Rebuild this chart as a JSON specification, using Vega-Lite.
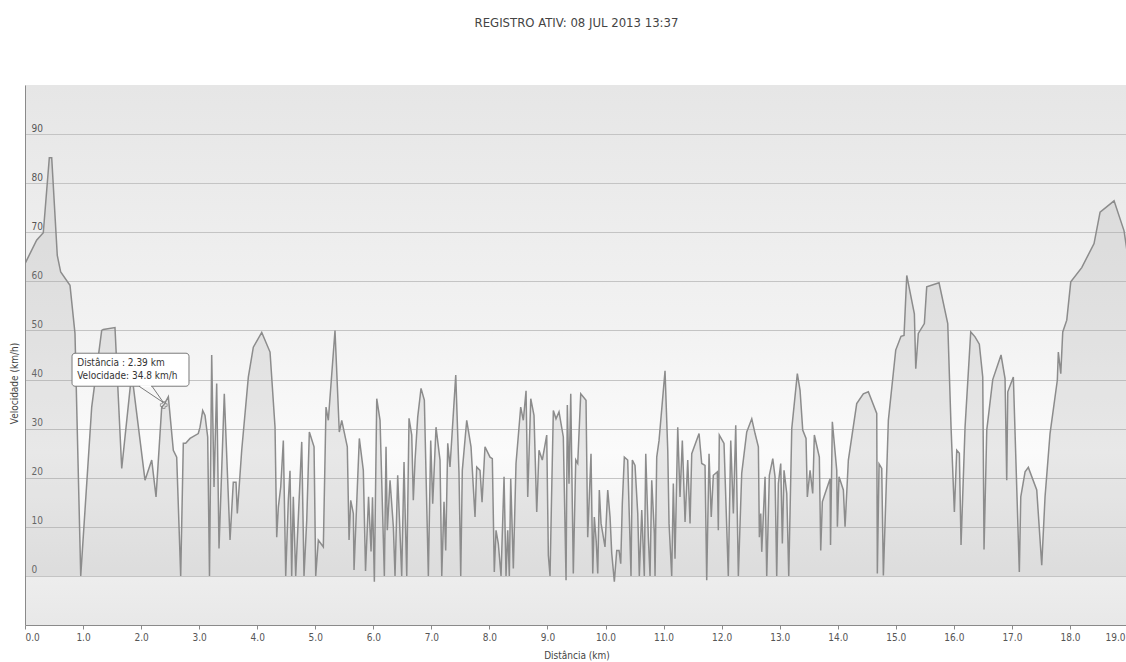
{
  "$schema": "https://vega.github.io/schema/vega-lite/v6.json",
  "autosize": {"type": "none"},
  "width": 1103,
  "height": 540,
  "padding": {"left": 25, "top": 85, "right": -2, "bottom": 37},
  "background": "#ffffff",
  "title": {
    "text": "REGISTRO ATIV: 08 JUL 2013 13:37",
    "anchor": "middle",
    "frame": "group",
    "offset": 55,
    "fontSize": 13,
    "fontWeight": "normal",
    "color": "#444444"
  },
  "config": {
    "font": "Liberation Sans Narrow, DejaVu Sans Condensed, Liberation Sans, sans-serif",
    "view": {
      "stroke": null,
      "fill": {
        "gradient": "linear",
        "x1": 0, "y1": 0, "x2": 0, "y2": 1,
        "stops": [
          {"offset": 0, "color": "#e6e6e6"},
          {"offset": 0.45, "color": "#f2f2f2"},
          {"offset": 0.68, "color": "#fbfbfb"},
          {"offset": 0.86, "color": "#f0f0f0"},
          {"offset": 1, "color": "#e8e8e8"}
        ]
      }
    }
  },
  "datasets": {
    "speed": [
      {"km": 0, "kmh": 63.6}, {"km": 0.2, "kmh": 68.4}, {"km": 0.315, "kmh": 69.9}, {"km": 0.419, "kmh": 85.2}, {"km": 0.46, "kmh": 85.2},
      {"km": 0.556, "kmh": 65.3}, {"km": 0.615, "kmh": 61.9}, {"km": 0.775, "kmh": 59.2}, {"km": 0.861, "kmh": 49.4}, {"km": 0.96, "kmh": 0},
      {"km": 1.149, "kmh": 34.4}, {"km": 1.321, "kmh": 50}, {"km": 1.349, "kmh": 50.2}, {"km": 1.55, "kmh": 50.6}, {"km": 1.666, "kmh": 21.9},
      {"km": 1.838, "kmh": 41.3}, {"km": 2.067, "kmh": 19.5}, {"km": 2.183, "kmh": 23.6}, {"km": 2.257, "kmh": 16.1}, {"km": 2.355, "kmh": 34.4},
      {"km": 2.39, "kmh": 34.8}, {"km": 2.469, "kmh": 36.5}, {"km": 2.555, "kmh": 25.6}, {"km": 2.613, "kmh": 24.2}, {"km": 2.682, "kmh": 0},
      {"km": 2.727, "kmh": 27}, {"km": 2.768, "kmh": 27}, {"km": 2.843, "kmh": 28}, {"km": 2.985, "kmh": 29}, {"km": 3.015, "kmh": 30.3},
      {"km": 3.061, "kmh": 33.7}, {"km": 3.101, "kmh": 32.7}, {"km": 3.147, "kmh": 28.3}, {"km": 3.178, "kmh": 0}, {"km": 3.216, "kmh": 45},
      {"km": 3.256, "kmh": 18.1}, {"km": 3.302, "kmh": 39.2}, {"km": 3.342, "kmh": 5.6}, {"km": 3.433, "kmh": 37.1}, {"km": 3.532, "kmh": 7.3},
      {"km": 3.588, "kmh": 19.1}, {"km": 3.635, "kmh": 19.1}, {"km": 3.657, "kmh": 12.7}, {"km": 3.733, "kmh": 25.6}, {"km": 3.847, "kmh": 40.5},
      {"km": 3.933, "kmh": 46.6}, {"km": 4.078, "kmh": 49.6}, {"km": 4.221, "kmh": 45.6}, {"km": 4.307, "kmh": 30.3}, {"km": 4.336, "kmh": 7.9},
      {"km": 4.364, "kmh": 14}, {"km": 4.405, "kmh": 18.1}, {"km": 4.45, "kmh": 27.6}, {"km": 4.491, "kmh": 0}, {"km": 4.536, "kmh": 15.4},
      {"km": 4.565, "kmh": 21.4}, {"km": 4.594, "kmh": 0}, {"km": 4.622, "kmh": 16.1}, {"km": 4.663, "kmh": 0}, {"km": 4.767, "kmh": 27.3},
      {"km": 4.806, "kmh": 0}, {"km": 4.853, "kmh": 11.3}, {"km": 4.898, "kmh": 29.3}, {"km": 4.979, "kmh": 26.3}, {"km": 5.008, "kmh": 0},
      {"km": 5.053, "kmh": 7.3}, {"km": 5.139, "kmh": 5.9}, {"km": 5.185, "kmh": 34.4}, {"km": 5.225, "kmh": 31.7}, {"km": 5.34, "kmh": 50},
      {"km": 5.414, "kmh": 29.3}, {"km": 5.456, "kmh": 31.7}, {"km": 5.552, "kmh": 26.3}, {"km": 5.582, "kmh": 7.3}, {"km": 5.611, "kmh": 15.4},
      {"km": 5.656, "kmh": 12.7}, {"km": 5.668, "kmh": 1.2}, {"km": 5.725, "kmh": 18.1}, {"km": 5.759, "kmh": 28}, {"km": 5.828, "kmh": 21.5},
      {"km": 5.866, "kmh": 1}, {"km": 5.918, "kmh": 16.1}, {"km": 5.961, "kmh": 5}, {"km": 5.986, "kmh": 16}, {"km": 6.018, "kmh": -1.2},
      {"km": 6.059, "kmh": 36.1}, {"km": 6.116, "kmh": 31.7}, {"km": 6.19, "kmh": 0}, {"km": 6.219, "kmh": 26.3}, {"km": 6.241, "kmh": 9.3},
      {"km": 6.288, "kmh": 19.5}, {"km": 6.345, "kmh": 10}, {"km": 6.374, "kmh": 0}, {"km": 6.42, "kmh": 20.5}, {"km": 6.489, "kmh": 0},
      {"km": 6.529, "kmh": 23.2}, {"km": 6.546, "kmh": 14}, {"km": 6.576, "kmh": 0}, {"km": 6.615, "kmh": 32.1}, {"km": 6.662, "kmh": 28.7},
      {"km": 6.689, "kmh": 15.4}, {"km": 6.719, "kmh": 23.6}, {"km": 6.765, "kmh": 32.4}, {"km": 6.822, "kmh": 38.2}, {"km": 6.879, "kmh": 35.8},
      {"km": 6.948, "kmh": 0}, {"km": 6.989, "kmh": 27.6}, {"km": 7.023, "kmh": 14.7}, {"km": 7.08, "kmh": 30.3}, {"km": 7.149, "kmh": 23.6},
      {"km": 7.179, "kmh": 0}, {"km": 7.218, "kmh": 15.1}, {"km": 7.247, "kmh": 5.2}, {"km": 7.282, "kmh": 27}, {"km": 7.321, "kmh": 22.2},
      {"km": 7.42, "kmh": 40.9}, {"km": 7.476, "kmh": 20.9}, {"km": 7.506, "kmh": 0}, {"km": 7.533, "kmh": 21.5}, {"km": 7.609, "kmh": 31.7},
      {"km": 7.683, "kmh": 26.3}, {"km": 7.752, "kmh": 12}, {"km": 7.781, "kmh": 22.2}, {"km": 7.838, "kmh": 21.5}, {"km": 7.873, "kmh": 15},
      {"km": 7.924, "kmh": 26.3}, {"km": 8.01, "kmh": 24.2}, {"km": 8.05, "kmh": 23.9}, {"km": 8.084, "kmh": 0.8}, {"km": 8.114, "kmh": 9.3},
      {"km": 8.153, "kmh": 6.6}, {"km": 8.2, "kmh": 0}, {"km": 8.229, "kmh": 11.3}, {"km": 8.252, "kmh": 20.2}, {"km": 8.286, "kmh": 0},
      {"km": 8.315, "kmh": 9.3}, {"km": 8.343, "kmh": 0}, {"km": 8.367, "kmh": 19.8}, {"km": 8.412, "kmh": 1.5}, {"km": 8.458, "kmh": 22.9},
      {"km": 8.539, "kmh": 34.4}, {"km": 8.584, "kmh": 31.7}, {"km": 8.631, "kmh": 37.7}, {"km": 8.66, "kmh": 16.1}, {"km": 8.712, "kmh": 36.1},
      {"km": 8.768, "kmh": 32.7}, {"km": 8.815, "kmh": 13}, {"km": 8.854, "kmh": 25.6}, {"km": 8.911, "kmh": 23.6}, {"km": 8.987, "kmh": 28.7},
      {"km": 9.015, "kmh": 4.2}, {"km": 9.044, "kmh": 0}, {"km": 9.073, "kmh": 17.5}, {"km": 9.101, "kmh": 33.7}, {"km": 9.147, "kmh": 32},
      {"km": 9.199, "kmh": 33.4}, {"km": 9.273, "kmh": 28.3}, {"km": 9.32, "kmh": -0.9}, {"km": 9.342, "kmh": 34.8}, {"km": 9.371, "kmh": 18.8},
      {"km": 9.401, "kmh": 37.1}, {"km": 9.445, "kmh": 0.5}, {"km": 9.487, "kmh": 23.6}, {"km": 9.521, "kmh": 22.9}, {"km": 9.573, "kmh": 37.1},
      {"km": 9.664, "kmh": 35.8}, {"km": 9.693, "kmh": 7.9}, {"km": 9.75, "kmh": 24.9}, {"km": 9.78, "kmh": 0.5}, {"km": 9.807, "kmh": 12},
      {"km": 9.84, "kmh": 7}, {"km": 9.866, "kmh": 0.5}, {"km": 9.893, "kmh": 17.5}, {"km": 9.923, "kmh": 10.7}, {"km": 9.991, "kmh": 5.9},
      {"km": 10.038, "kmh": 17.5}, {"km": 10.078, "kmh": 12}, {"km": 10.107, "kmh": 4.6}, {"km": 10.152, "kmh": -1.2}, {"km": 10.193, "kmh": 5.2},
      {"km": 10.233, "kmh": 5.2}, {"km": 10.262, "kmh": 2.5}, {"km": 10.289, "kmh": 14.7}, {"km": 10.324, "kmh": 24.2}, {"km": 10.382, "kmh": 23.6},
      {"km": 10.439, "kmh": 0}, {"km": 10.462, "kmh": 23.6}, {"km": 10.508, "kmh": 22.5}, {"km": 10.555, "kmh": 12.7}, {"km": 10.582, "kmh": 0},
      {"km": 10.624, "kmh": 13.4}, {"km": 10.668, "kmh": 0}, {"km": 10.693, "kmh": 24.9}, {"km": 10.737, "kmh": 7.9}, {"km": 10.767, "kmh": 0},
      {"km": 10.796, "kmh": 19.5}, {"km": 10.841, "kmh": 8.6}, {"km": 10.853, "kmh": 0}, {"km": 10.882, "kmh": 24.2}, {"km": 10.922, "kmh": 27.6},
      {"km": 11.025, "kmh": 41.8}, {"km": 11.072, "kmh": 25.6}, {"km": 11.094, "kmh": 10.7}, {"km": 11.14, "kmh": 0}, {"km": 11.168, "kmh": 18.8},
      {"km": 11.197, "kmh": 3.5}, {"km": 11.244, "kmh": 30.3}, {"km": 11.283, "kmh": 16.1}, {"km": 11.323, "kmh": 27.6}, {"km": 11.37, "kmh": 11},
      {"km": 11.416, "kmh": 23.6}, {"km": 11.456, "kmh": 10.7}, {"km": 11.485, "kmh": 24.9}, {"km": 11.611, "kmh": 29}, {"km": 11.657, "kmh": 22.9},
      {"km": 11.714, "kmh": 22.5}, {"km": 11.743, "kmh": -0.9}, {"km": 11.783, "kmh": 24.9}, {"km": 11.821, "kmh": 12}, {"km": 11.857, "kmh": 20.5},
      {"km": 11.926, "kmh": 21.2}, {"km": 11.943, "kmh": 9.3}, {"km": 11.96, "kmh": 28.7}, {"km": 12.041, "kmh": 27}, {"km": 12.115, "kmh": 0},
      {"km": 12.157, "kmh": 27.6}, {"km": 12.202, "kmh": 12.7}, {"km": 12.243, "kmh": 30.7}, {"km": 12.288, "kmh": 0}, {"km": 12.346, "kmh": 20.9},
      {"km": 12.432, "kmh": 29.3}, {"km": 12.519, "kmh": 32}, {"km": 12.576, "kmh": 29}, {"km": 12.633, "kmh": 26.3}, {"km": 12.65, "kmh": 7.9},
      {"km": 12.674, "kmh": 12.7}, {"km": 12.691, "kmh": 4.9}, {"km": 12.748, "kmh": 20.2}, {"km": 12.777, "kmh": 0}, {"km": 12.822, "kmh": 20.5},
      {"km": 12.881, "kmh": 23.9}, {"km": 12.92, "kmh": 20.2}, {"km": 12.949, "kmh": 0}, {"km": 12.977, "kmh": 18.8}, {"km": 13.018, "kmh": 22.9},
      {"km": 13.046, "kmh": 6.6}, {"km": 13.075, "kmh": 21.5}, {"km": 13.122, "kmh": 16.8}, {"km": 13.156, "kmh": 0}, {"km": 13.208, "kmh": 30},
      {"km": 13.304, "kmh": 41.2}, {"km": 13.351, "kmh": 37.8}, {"km": 13.397, "kmh": 29.7}, {"km": 13.454, "kmh": 28}, {"km": 13.476, "kmh": 16.1},
      {"km": 13.523, "kmh": 21.5}, {"km": 13.569, "kmh": 16.8}, {"km": 13.597, "kmh": 28.7}, {"km": 13.683, "kmh": 24.2}, {"km": 13.707, "kmh": 5.2},
      {"km": 13.735, "kmh": 15.1}, {"km": 13.782, "kmh": 16.8}, {"km": 13.868, "kmh": 19.8}, {"km": 13.876, "kmh": 6.3}, {"km": 13.907, "kmh": 31.4},
      {"km": 13.983, "kmh": 21.5}, {"km": 13.994, "kmh": 10}, {"km": 14.022, "kmh": 20.2}, {"km": 14.097, "kmh": 17.5}, {"km": 14.126, "kmh": 10},
      {"km": 14.183, "kmh": 23.6}, {"km": 14.327, "kmh": 35.1}, {"km": 14.441, "kmh": 37.1}, {"km": 14.527, "kmh": 37.5}, {"km": 14.672, "kmh": 33.1},
      {"km": 14.682, "kmh": 0.5}, {"km": 14.712, "kmh": 22.8}, {"km": 14.758, "kmh": 21.9}, {"km": 14.786, "kmh": 0.1}, {"km": 14.872, "kmh": 31.7},
      {"km": 14.999, "kmh": 46}, {"km": 15.09, "kmh": 48.8}, {"km": 15.142, "kmh": 49}, {"km": 15.189, "kmh": 61.2}, {"km": 15.32, "kmh": 53.4},
      {"km": 15.344, "kmh": 42.2}, {"km": 15.388, "kmh": 49.4}, {"km": 15.492, "kmh": 51.4}, {"km": 15.533, "kmh": 58.9}, {"km": 15.745, "kmh": 59.7},
      {"km": 15.895, "kmh": 51.4}, {"km": 15.952, "kmh": 30.3}, {"km": 16.009, "kmh": 13}, {"km": 16.05, "kmh": 25.6}, {"km": 16.095, "kmh": 25},
      {"km": 16.124, "kmh": 6.3}, {"km": 16.193, "kmh": 30.3}, {"km": 16.291, "kmh": 49.7}, {"km": 16.365, "kmh": 48.7}, {"km": 16.439, "kmh": 47.2},
      {"km": 16.498, "kmh": 40.5}, {"km": 16.52, "kmh": 5.4}, {"km": 16.567, "kmh": 29.7}, {"km": 16.67, "kmh": 40}, {"km": 16.813, "kmh": 45},
      {"km": 16.882, "kmh": 40.2}, {"km": 16.911, "kmh": 19.5}, {"km": 16.929, "kmh": 37.5}, {"km": 17.025, "kmh": 40.5}, {"km": 17.128, "kmh": 0.8},
      {"km": 17.153, "kmh": 16.1}, {"km": 17.227, "kmh": 21.2}, {"km": 17.283, "kmh": 22.1}, {"km": 17.428, "kmh": 17.5}, {"km": 17.514, "kmh": 2.2},
      {"km": 17.571, "kmh": 16.1}, {"km": 17.657, "kmh": 29}, {"km": 17.783, "kmh": 39.9}, {"km": 17.8, "kmh": 45.6}, {"km": 17.842, "kmh": 41.2},
      {"km": 17.876, "kmh": 49.7}, {"km": 17.945, "kmh": 52.1}, {"km": 18.014, "kmh": 59.9}, {"km": 18.203, "kmh": 62.8}, {"km": 18.415, "kmh": 67.7},
      {"km": 18.519, "kmh": 74.1}, {"km": 18.76, "kmh": 76.4}, {"km": 18.932, "kmh": 70.3}, {"km": 19.035, "kmh": 62}
    ],
    "tipbox": [{"km": 0.81, "km2": 2.825, "kmh": 38.64, "kmh2": 45.36}],
    "tipgap": [{"km": 1.985, "km2": 2.17, "kmh": 38.64}],
    "tiptail": [{"km": 1.964, "kmh": 38.64, "o": 1}, {"km": 2.385, "kmh": 35.3, "o": 2}, {"km": 2.188, "kmh": 38.64, "o": 3}],
    "tiptext": [{"km": 0.9, "kmh": 43.4, "t": "Distância : 2.39 km"}, {"km": 0.9, "kmh": 40.8, "t": "Velocidade: 34.8 km/h"}],
    "tippoint": [{"km": 2.39, "kmh": 34.8}]
  },
  "layer": [
    {
      "data": {"name": "speed"},
      "mark": {
        "type": "area",
        "color": "#a4a4a4",
        "fillOpacity": 0.22,
        "clip": true,
        "line": {"color": "#8c8c8c", "strokeWidth": 1.5, "clip": true}
      },
      "encoding": {
        "x": {
          "field": "km",
          "type": "quantitative",
          "scale": {"domain": [0, 19], "nice": false, "zero": false},
          "axis": {
            "title": "Distância  (km)",
            "values": [0, 1, 2, 3, 4, 5, 6, 7, 8, 9, 10, 11, 12, 13, 14, 15, 16, 17, 18, 19],
            "format": ".1f",
            "grid": false,
            "domainColor": "#8a8a8a",
            "tickColor": "#8a8a8a",
            "tickSize": 4,
            "labelFontSize": 10,
            "labelColor": "#555555",
            "labelPadding": 3,
            "labelAlign": {"condition": [{"test": "datum.value == 0", "value": "left"}, {"test": "datum.value == 19", "value": "right"}], "value": "center"},
            "labelOffset": {"condition": {"test": "datum.value == 19", "value": -3}, "value": 0},
            "labelFlush": false,
            "labelOverlap": false,
            "titleFontSize": 10,
            "titleFontWeight": "normal",
            "titleColor": "#444444",
            "titlePadding": 8
          }
        },
        "y": {
          "field": "kmh",
          "type": "quantitative",
          "scale": {"domain": [-10, 100], "nice": false, "zero": false},
          "axis": {
            "title": "Velocidade (km/h)",
            "values": [0, 10, 20, 30, 40, 50, 60, 70, 80, 90],
            "grid": true,
            "gridColor": "#c4c4c4",
            "ticks": false,
            "tickSize": 0,
            "domainColor": "#8a8a8a",
            "labelAlign": "left",
            "labelBaseline": "bottom",
            "labelPadding": -6,
            "labelOffset": -1,
            "labelFontSize": 10,
            "labelColor": "#555555",
            "titleFontSize": 10,
            "titleFontWeight": "normal",
            "titleColor": "#444444",
            "titleX": -6,
            "titleY": 298
          }
        }
      }
    },
    {
      "data": {"name": "tipbox"},
      "mark": {"type": "rect", "fill": "#ffffff", "stroke": "#7a7a7a", "strokeWidth": 1, "cornerRadius": 3},
      "encoding": {
        "x": {"field": "km", "type": "quantitative"},
        "x2": {"field": "km2"},
        "y": {"field": "kmh", "type": "quantitative"},
        "y2": {"field": "kmh2"}
      }
    },
    {
      "data": {"name": "tipgap"},
      "mark": {"type": "rule", "color": "#ffffff", "strokeWidth": 2},
      "encoding": {
        "x": {"field": "km", "type": "quantitative"},
        "x2": {"field": "km2"},
        "y": {"field": "kmh", "type": "quantitative"}
      }
    },
    {
      "data": {"name": "tiptail"},
      "mark": {"type": "line", "color": "#7a7a7a", "strokeWidth": 1},
      "encoding": {
        "x": {"field": "km", "type": "quantitative"},
        "y": {"field": "kmh", "type": "quantitative"},
        "order": {"field": "o"}
      }
    },
    {
      "data": {"name": "tiptext"},
      "mark": {"type": "text", "align": "left", "baseline": "middle", "fontSize": 10, "color": "#333333"},
      "encoding": {
        "x": {"field": "km", "type": "quantitative"},
        "y": {"field": "kmh", "type": "quantitative"},
        "text": {"field": "t"}
      }
    },
    {
      "data": {"name": "tippoint"},
      "mark": {"type": "point", "shape": "cross", "size": 45, "filled": false, "color": "#777777", "strokeWidth": 1},
      "encoding": {
        "x": {"field": "km", "type": "quantitative"},
        "y": {"field": "kmh", "type": "quantitative"}
      }
    }
  ]
}
